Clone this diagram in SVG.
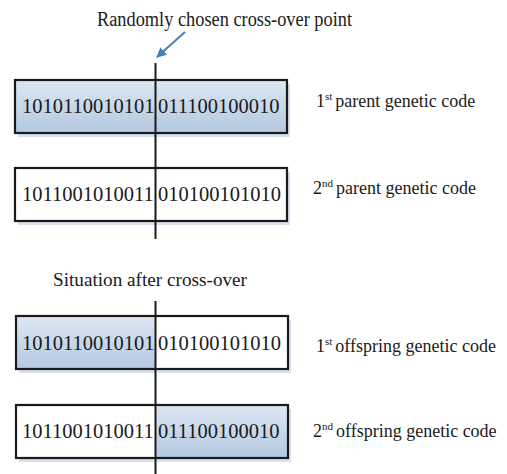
<svg xmlns="http://www.w3.org/2000/svg" width="507" height="474" viewBox="0 0 507 474">
<style>
text{font-family:"Liberation Serif","Times New Roman",serif;fill:#1a1a1a}
.code{font-size:20.5px}
.lbl{font-size:18px}
.sup{font-size:11px}
.frame{fill:none;stroke:#1a1a1a;stroke-width:2.2}
.cut{stroke:#1a1a1a;stroke-width:2}
.shadow{fill:#a9bcd8;opacity:0.45}
</style>
<defs>
<linearGradient id="blue" x1="0" y1="0" x2="0" y2="1">
<stop offset="0" stop-color="#dde7f3"/>
<stop offset="1" stop-color="#b4c8e1"/>
</linearGradient>
<marker id="ah" viewBox="0 0 10 10" refX="9" refY="5" markerWidth="5" markerHeight="5" orient="auto">
<path d="M0,0 L10,5 L0,10 z" fill="#4a7ebb"/>
</marker>
</defs>
<text id="title" x="97" y="26" font-size="20" textLength="255" lengthAdjust="spacingAndGlyphs">Randomly chosen cross-over point</text>
<g id="parent1">
<rect class="shadow" x="18" y="84" width="272" height="53"/>
<rect x="15" y="80" width="272" height="53" fill="url(#blue)"/>
<rect class="frame" x="15" y="80" width="272" height="53"/>
<text class="code" x="22" y="113">1010110010101</text>
<text class="code" x="158" y="113">011100100010</text>
<text class="lbl" x="316" y="107">1<tspan class="sup" dy="-7">st</tspan><tspan dy="7" dx="3">parent genetic code</tspan></text>
</g>
<g id="parent2">
<rect class="shadow" x="18" y="172" width="272" height="53"/>
<rect x="15" y="168" width="272" height="53" fill="#ffffff"/>
<rect class="frame" x="15" y="168" width="272" height="53"/>
<text class="code" x="22" y="201">1011001010011</text>
<text class="code" x="158" y="201">010100101010</text>
<text class="lbl" x="313" y="194">2<tspan class="sup" dy="-7">nd</tspan><tspan dy="7" dx="3">parent genetic code</tspan></text>
</g>
<text id="after" x="53" y="286" font-size="19" textLength="194" lengthAdjust="spacingAndGlyphs">Situation after cross-over</text>
<g id="offspring1">
<rect class="shadow" x="19" y="320" width="272" height="53"/>
<rect x="16" y="316" width="140" height="53" fill="url(#blue)"/>
<rect x="156" y="316" width="132" height="53" fill="#ffffff"/>
<rect class="frame" x="16" y="316" width="272" height="53"/>
<text class="code" x="22" y="350">1010110010101</text>
<text class="code" x="158" y="350">010100101010</text>
<text class="lbl" x="316" y="352">1<tspan class="sup" dy="-7">st</tspan><tspan dy="7" dx="3">offspring genetic code</tspan></text>
</g>
<g id="offspring2">
<rect class="shadow" x="19" y="409" width="272" height="53"/>
<rect x="16" y="405" width="140" height="53" fill="#ffffff"/>
<rect x="156" y="405" width="132" height="53" fill="url(#blue)"/>
<rect class="frame" x="16" y="405" width="272" height="53"/>
<text class="code" x="22" y="438">1011001010011</text>
<text class="code" x="158" y="438">011100100010</text>
<text class="lbl" x="313" y="437">2<tspan class="sup" dy="-7">nd</tspan><tspan dy="7" dx="3">offspring genetic code</tspan></text>
</g>
<g id="connectors">
<line class="cut" x1="155.5" y1="63" x2="155.5" y2="239"/>
<line class="cut" x1="155.5" y1="301" x2="155.5" y2="474"/>
<line x1="185" y1="32" x2="157" y2="57" stroke="#4a7ebb" stroke-width="2" marker-end="url(#ah)"/>
</g>
</svg>
